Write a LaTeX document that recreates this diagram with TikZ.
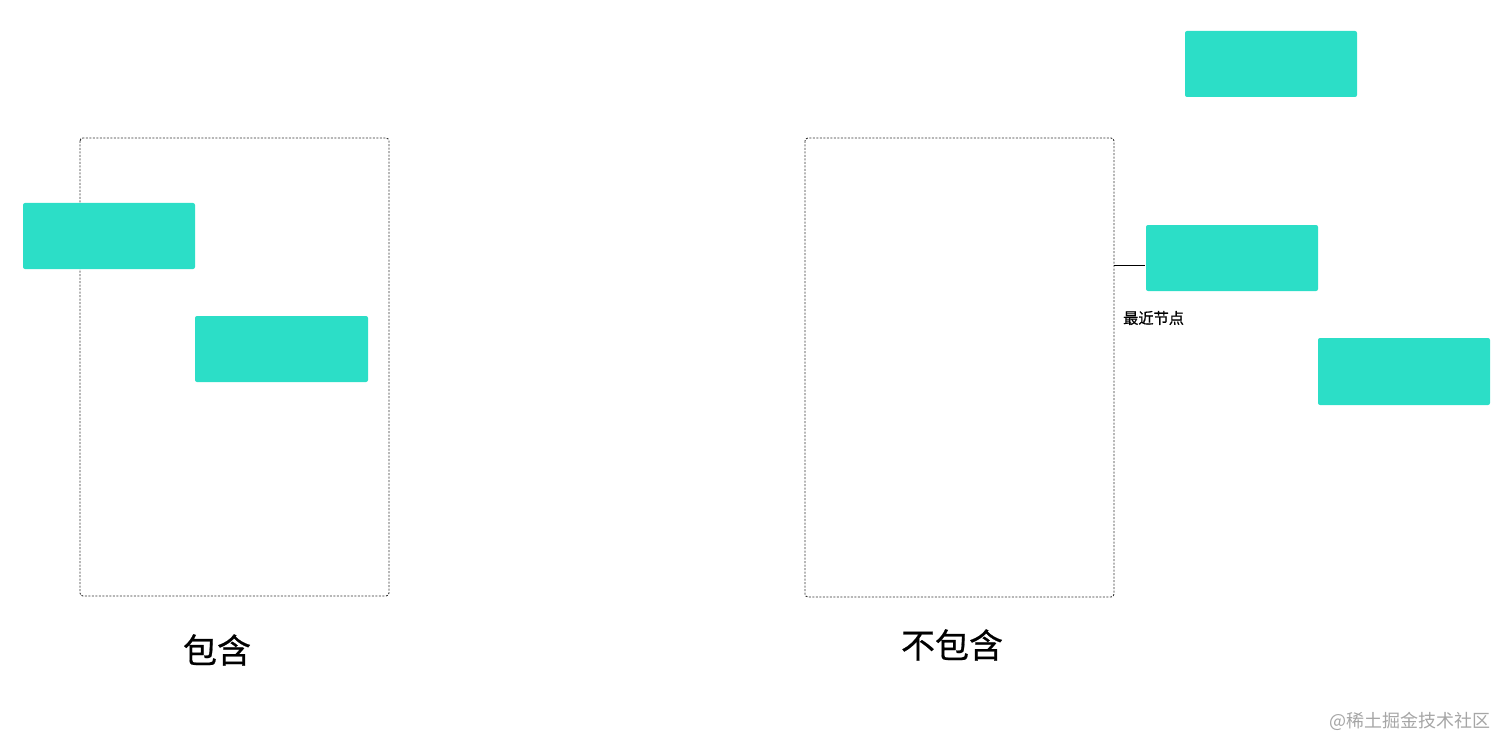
\documentclass[tikz,border=0pt]{standalone}
\usepackage{fontspec}
\newfontfamily\cjk{Noto Sans CJK SC}
\newfontfamily\cjkm[FakeBold=0.6]{Noto Sans CJK SC}
\definecolor{teal1}{HTML}{2CDEC7}
\begin{document}
\begin{tikzpicture}[x=1pt,y=-1pt,
  tealbox/.style={fill=teal1,draw=none,rounded corners=2pt},
  frame/.style={draw=black!80,dashed,dash pattern=on 2pt off 1.5pt,line width=0.9pt,rounded corners=3pt}]
\useasboundingbox (0,0) rectangle (1512,754);
% left
\draw[frame] (80,138) rectangle (389,596);
\path[tealbox] (23,203) rectangle (195,269);
\path[tealbox] (195,316) rectangle (368,382);
\node[font=\cjkm\fontsize{34}{34}\selectfont] (l1) at (217,650) {包含};
% right
\draw[frame] (805,138) rectangle (1114,597);
\coordinate (fr) at (1114,265);
\path[tealbox] (1185,31) rectangle (1357,97);
\path[tealbox] (1146,225) rectangle (1318,291);
\coordinate (dl) at (1145,265);
\path[tealbox] (1318,338) rectangle (1490,405);
\draw[line width=1pt] (fr) -- (dl);
\node[font=\cjkm\fontsize{15.2}{15.2}\selectfont,anchor=west,inner sep=0pt] (near) at (1123,318) {最近节点};
\node[font=\cjkm\fontsize{34}{34}\selectfont] (l2) at (952,645) {不包含};
\node[font=\cjk\fontsize{18}{18}\selectfont,text=black!35,anchor=east,inner sep=0pt] (wm) at (1491,721) {@稀土掘金技术社区};
\end{tikzpicture}
\end{document}
